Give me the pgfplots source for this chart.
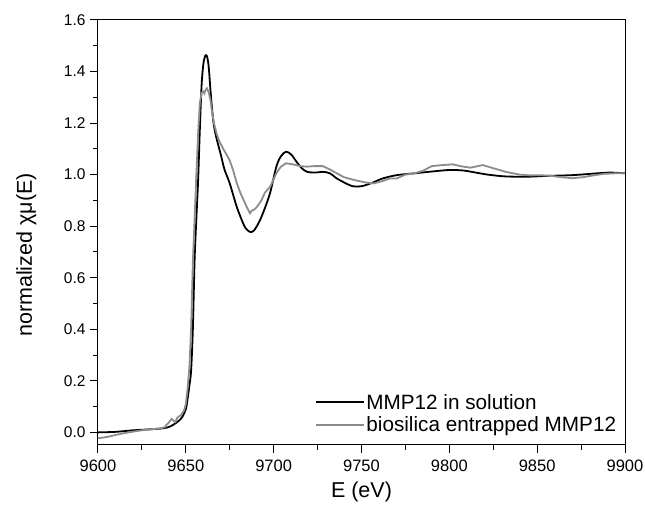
\documentclass[border=0pt]{standalone}
\usepackage{pgfplots}
\pgfplotsset{compat=1.18}
\usepackage{fontspec}
\setmainfont{Liberation Sans}
\definecolor{grayline}{HTML}{8C8C8C}
\begin{document}
\begin{tikzpicture}
\begin{axis}[
  scale only axis,
  width=527pt, height=425pt,
  xmin=9600, xmax=9900, ymin=-0.049, ymax=1.6,
  xtick={9600,9650,...,9900},
  ytick={0,0.2,...,1.6},
  minor x tick num=1, minor y tick num=1,
  tick pos=left, tick align=outside,
  major tick length=8pt, minor tick length=5pt,
  every tick/.style={black, line width=1pt},
  axis line style={line width=1pt},
  /pgf/number format/assume math mode=true,
  xticklabel style={/pgf/number format/1000 sep={}, font=\fontsize{16.5}{19}\selectfont, yshift=-3pt},
  yticklabel style={/pgf/number format/fixed, /pgf/number format/fixed zerofill, /pgf/number format/precision=1, font=\fontsize{15.5}{19}\selectfont, xshift=-1pt},
  xlabel={E (eV)},
  ylabel={normalized χμ(E)},
  label style={font=\fontsize{21.5}{25}\selectfont},
  xlabel style={at={(axis description cs:0.5,-0.1106)}, anchor=center},
  ylabel style={at={(axis description cs:-0.136,0.447)}, anchor=center},
  legend style={draw=none, fill=none, at={(0.993,0.018)}, anchor=south east, font=\fontsize{20.7}{24}\selectfont, row sep=2pt},
  legend cell align=left,
  legend image code/.code={\draw[#1] (0pt,0pt) -- (48pt,0pt);},
]
\addplot[black, line width=1.8pt, smooth] coordinates {
(9600,0.000) (9610,0.002) (9620,0.008) (9630,0.012) (9636,0.015) (9640,0.020)
(9643,0.030) (9646,0.045) (9648,0.060) (9650,0.09) (9651,0.13) (9652,0.18)
(9653,0.24) (9654,0.40) (9655,0.67) (9656,0.83) (9657,0.98) (9658,1.18)
(9659,1.35) (9660,1.43) (9661,1.46) (9662,1.46) (9663,1.42) (9664,1.33)
(9665,1.25) (9666,1.19) (9667.5,1.14) (9670,1.075) (9672,1.02) (9675,0.966)
(9679,0.875) (9683,0.805) (9685,0.785) (9687,0.777) (9689,0.785) (9692,0.82)
(9695,0.87) (9698,0.93) (9701.5,1.03) (9704,1.07) (9707,1.089) (9710,1.078)
(9713,1.05) (9716,1.025) (9719,1.011) (9724,1.008) (9728,1.011) (9732,1.005)
(9736,0.985) (9740,0.97) (9745,0.955) (9750,0.955) (9756,0.968) (9762,0.985)
(9770,0.998) (9780,1.005) (9790,1.012) (9800,1.018) (9808,1.016) (9815,1.008)
(9822,1.000) (9832,0.993) (9845,0.992) (9855,0.995) (9870,0.998) (9884,1.005)
(9892,1.008) (9900,1.005)
};
\addlegendentry{MMP12 in solution}
\addplot[grayline, line width=1.8pt] coordinates {
(9600,-0.023) (9605,-0.018) (9610,-0.010) (9615,-0.003) (9620,0.003) (9625,0.008)
(9630,0.012) (9635,0.015) (9638,0.020) (9639,0.03) (9640,0.035) (9641,0.045)
(9642,0.052) (9643,0.045) (9644,0.040) (9645,0.055) (9646,0.062) (9647,0.065)
(9648,0.075) (9649,0.085) (9650,0.11) (9651,0.17) (9652,0.25) (9653,0.40)
(9654,0.66) (9655,0.83) (9656,1.00) (9657,1.16) (9658,1.28) (9659,1.318)
(9660,1.322) (9660.5,1.315) (9661,1.325) (9662,1.335) (9663,1.32) (9664,1.29)
(9665,1.24) (9666,1.2) (9667.5,1.16) (9669,1.13) (9671.3,1.10) (9673,1.08)
(9675,1.055) (9677,1.015) (9679,0.967) (9681,0.93) (9683,0.9) (9685,0.87)
(9686.5,0.85) (9687.5,0.86) (9689,0.865) (9690.5,0.875) (9693,0.9) (9695,0.93)
(9698,0.953) (9701.5,1.005) (9704,1.03) (9707,1.044) (9711,1.04) (9715,1.033)
(9719,1.031) (9723,1.033) (9728,1.033) (9732,1.02) (9736,1.005) (9740,0.99)
(9746,0.979) (9752,0.97) (9757,0.966) (9762,0.975) (9766,0.985) (9770,0.985)
(9775,1.0) (9780,1.005) (9785,1.015) (9790,1.033) (9796,1.037) (9802,1.04)
(9807,1.032) (9812,1.027) (9819,1.037) (9825,1.025) (9832,1.011) (9840,1.0)
(9846,0.997) (9852,0.998) (9858,0.995) (9864,0.99) (9870,0.986) (9876,0.99)
(9882,0.997) (9888,1.003) (9894,1.005) (9900,1.005)
};
\addlegendentry{biosilica entrapped MMP12}
\draw[line width=1pt] (rel axis cs:0,1) -- (rel axis cs:1,1) -- (rel axis cs:1,0);
\end{axis}
\pgfresetboundingbox
\path ([shift={(-98pt,-65pt)}]current axis.south west) rectangle ([shift={(20pt,20pt)}]current axis.north east);
\end{tikzpicture}
\end{document}
